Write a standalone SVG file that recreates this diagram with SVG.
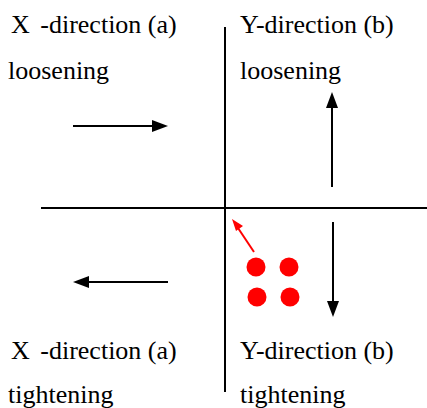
<svg xmlns="http://www.w3.org/2000/svg" width="427" height="408" viewBox="0 0 427 408">
<style>
text{font-family:"Liberation Serif","Times New Roman",serif;font-size:26px;fill:#000}
.axis{stroke:#000;stroke-width:2;fill:none}
.arr{stroke:#000;stroke-width:2;fill:none}
.head{fill:#000}
.red{stroke:#f00;stroke-width:2;fill:none}
.dot{fill:#f00}
</style>
<rect width="427" height="408" fill="#fff"/>
<g id="axes">
<line class="axis" x1="225" y1="27" x2="225" y2="392"/>
<line class="axis" x1="41" y1="208" x2="427" y2="208"/>
</g>
<g id="labels">
<text id="xa-loose" x="11" y="33">X <tspan dx="4">-direction (a)</tspan></text>
<text x="8" y="79">loosening</text>
<text id="yb-loose" x="240" y="33">Y-direction (b)</text>
<text x="240" y="79">loosening</text>
<text id="xa-tight" x="11" y="359">X <tspan dx="4">-direction (a)</tspan></text>
<text x="8" y="403">tightening</text>
<text id="yb-tight" x="240" y="359">Y-direction (b)</text>
<text x="240" y="403">tightening</text>
</g>
<g id="connectors">
<line class="arr" x1="73" y1="126" x2="154" y2="126"/>
<polygon class="head" points="168,126 152,120 152,132"/>
<line class="arr" x1="168" y1="282" x2="87" y2="282"/>
<polygon class="head" points="73,282 89,276 89,288"/>
<line class="arr" x1="332" y1="187" x2="332" y2="106"/>
<polygon class="head" points="332,92 326,108 338,108"/>
<line class="arr" x1="333" y1="222" x2="333" y2="303"/>
<polygon class="head" points="333,317 327,301 339,301"/>
<line class="red" x1="254" y1="252" x2="238" y2="228"/>
<polygon class="dot" points="232,219 243,226 236,231"/>
</g>
<g id="dots">
<circle class="dot" cx="256" cy="267" r="9.5"/>
<circle class="dot" cx="289" cy="267" r="9.5"/>
<circle class="dot" cx="257" cy="297" r="9.5"/>
<circle class="dot" cx="290" cy="297" r="9.5"/>
</g>
</svg>
